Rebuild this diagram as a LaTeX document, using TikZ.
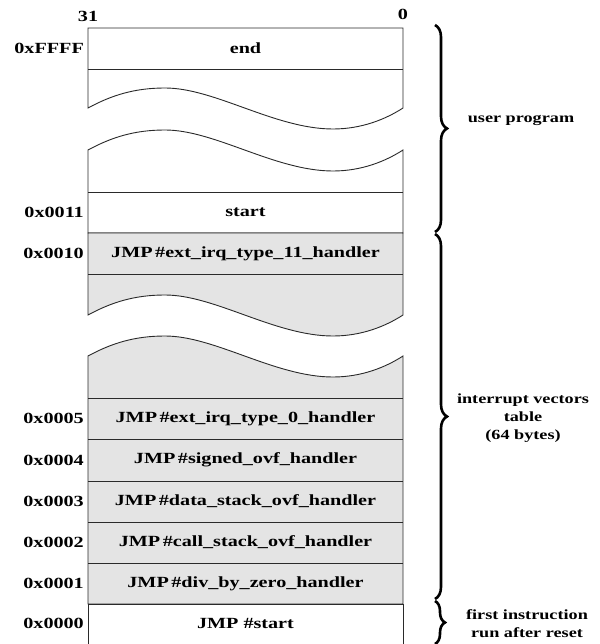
\documentclass[tikz,border=0pt]{standalone}
\usepackage{fontspec}
\setmainfont{Liberation Serif}[FakeStretch=1.3]
\usetikzlibrary{decorations.pathreplacing}
\definecolor{cellgray}{HTML}{E4E4E4}
\definecolor{edge}{HTML}{2A2A2A}
\newcommand{\wavelr}[1]{(88,#1) .. controls (112,{#1-13}) and (135,{#1-20}) .. (165,{#1-20}) .. controls (215,{#1-20}) and (275,{#1+21}) .. (333,{#1+21}) .. controls (362,{#1+21}) and (386,{#1+11}) .. (403,#1)}
\tikzset{
  seg/.style={draw=edge, line width=0.9pt},
  rowline/.style={draw=edge, line width=0.9pt},
  celltext/.style={font=\fontsize{15.5}{17}\selectfont\bfseries, inner sep=0pt},
  addr/.style={font=\fontsize{15.5}{17}\selectfont\bfseries, inner sep=0pt, anchor=east},
  sidetext/.style={font=\fontsize{14}{18}\selectfont\bfseries, inner sep=0pt, align=center},
  bracestyle/.style={draw=black, line width=2.6pt, decorate, decoration={brace, amplitude=#1}},
}
\begin{document}
\begin{tikzpicture}[x=1pt, y=-1pt]
\useasboundingbox (0,0) rectangle (599,644);
% top white segment
\path[seg, fill=white] (88,28) -- \wavelr{108} -- (403,28) -- cycle;
\draw[rowline] (88,69) -- (403,69);
% second white segment
\path[seg, fill=white] \wavelr{150} -- (403,233) -- (88,233) -- cycle;
\draw[rowline] (88,192) -- (403,192);
% gray segment with 0x0010
\path[seg, fill=cellgray] (88,233) -- \wavelr{315} -- (403,233) -- cycle;
\draw[rowline] (88,274) -- (403,274);
% lower gray segment
\path[seg, fill=cellgray] \wavelr{356} -- (403,604) -- (88,604) -- cycle;
\foreach \yy in {398,439,481,522,563} \draw[rowline] (88,\yy) -- (403,\yy);
% bottom white row (cut by the border)
\path[fill=white] (88,604) rectangle (403,650);
\draw[seg] (88,650) -- (88,604) -- (403,604) -- (403,650);

% bit numbers
\node[celltext] (b31) at (88,16) {31};
\node[celltext] (b0) at (403,14) {0};

% cell texts
\node[celltext] (cend) at (245.5,48.5) {end};
\node[celltext] (cstart) at (245.5,212.5) {start};
\node[celltext] (c10) at (245.5,253.5) {JMP\,\#ext\_irq\_type\_11\_handler};
\node[celltext] (c5) at (245.5,418.5) {JMP\,\#ext\_irq\_type\_0\_handler};
\node[celltext] (c4) at (245.5,460) {JMP\,\#signed\_ovf\_handler};
\node[celltext] (c3) at (245.5,501.5) {JMP\,\#data\_stack\_ovf\_handler};
\node[celltext] (c2) at (245.5,542.5) {JMP\,\#call\_stack\_ovf\_handler};
\node[celltext] (c1) at (245.5,583.5) {JMP\,\#div\_by\_zero\_handler};
\node[celltext] (c0) at (245.5,623.5) {JMP \#start};

% addresses
\node[addr] (aFFFF) at (84,48.5) {0xFFFF};
\node[addr] (a11) at (84,212.5) {0x0011};
\node[addr] (a10) at (84,253.5) {0x0010};
\node[addr] (a5) at (84,418.5) {0x0005};
\node[addr] (a4) at (84,460) {0x0004};
\node[addr] (a3) at (84,501.5) {0x0003};
\node[addr] (a2) at (84,542.5) {0x0002};
\node[addr] (a1) at (84,583.5) {0x0001};
\node[addr] (a0) at (84,623.5) {0x0000};

% braces
\coordinate (u1) at (435,25);
\coordinate (u2) at (435,232);
\coordinate (i1) at (435,234);
\coordinate (i2) at (435,599);
\coordinate (f1) at (435,601);
\coordinate (f2) at (435,644);
\draw[bracestyle=12pt] (u1) -- (u2);
\draw[bracestyle=12pt] (i1) -- (i2);
\draw[bracestyle=10pt] (f1) -- (f2);

% side labels
\node[sidetext] (luser) at (521,120) {user program};
\node[sidetext] (lint) at (523,418) {interrupt vectors\\table\\(64 bytes)};
\node[sidetext] (lfirst) at (527,623.5) {first instruction\\run after reset};
\end{tikzpicture}
\end{document}
